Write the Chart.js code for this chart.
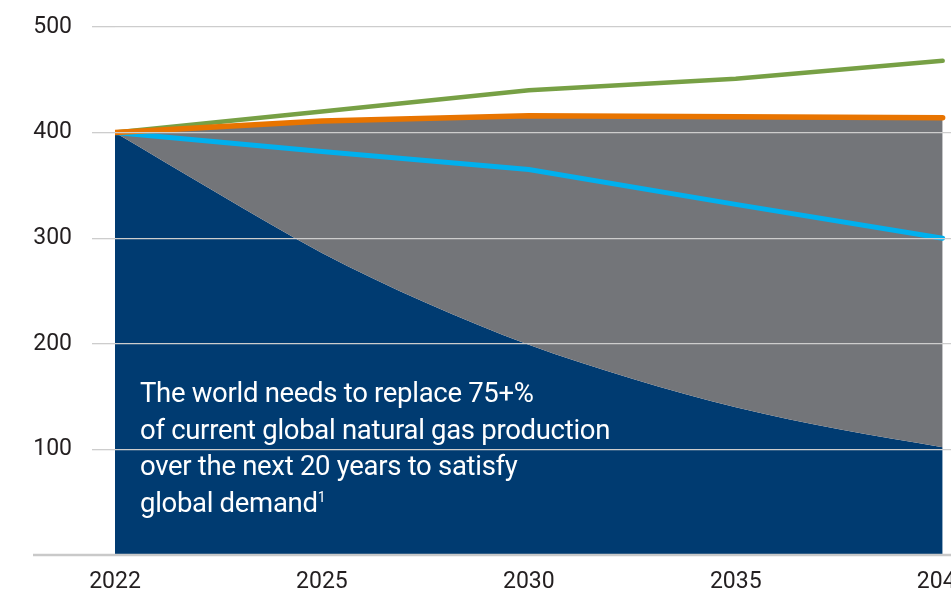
<!DOCTYPE html>
<html>
<head>
<meta charset="utf-8">
<script src="https://cdn.jsdelivr.net/npm/chart.js@4"></script>
<style>
    html, body { margin: 0; padding: 0; background: #fff; overflow: hidden; }
    #wrap { position: relative; width: 1000px; height: 590px; }
    #note {
        position: absolute;
        left: 140px;
        top: 375px;
        color: #fff;
        font-family: Roboto, sans-serif;
        font-size: 27.5px;
        line-height: 36.7px;
        letter-spacing: -0.3px;
        white-space: nowrap;
        pointer-events: none;
    }
    #note sup { font-size: 14px; vertical-align: 10px; line-height: 0; }
</style>
</head>
<body>
<div id="wrap">
    <canvas id="gasChart"></canvas>
    <div id="note">The world needs to replace 75+%<br>of current global natural gas production<br>over the next 20 years to satisfy<br>global demand<sup>1</sup></div>
</div>
<script>
// Tick years on the x axis (evenly spaced, not proportional to time)
const tickYears = [2022, 2025, 2030, 2035, 2040];
const yTicks = [100, 200, 300, 400, 500];

// Existing production decline (navy area), sampled also between ticks
const declineYears = [2022, 2023.5, 2025, 2027.5, 2030, 2032.5, 2035, 2037.5, 2040];
const declineValues = [400, 342, 286, 239, 199, 167, 140, 119, 102];

// Demand lines
const orangeValues = [400, 411, 416, 415, 414];
const blueValues = [400, 382, 365, 332, 300];
const greenValues = [400, 420, 440, 451, 468];

// map a year onto the evenly spaced tick positions
function yearToPos(year) {
    for (let i = 0; i < tickYears.length - 1; i++) {
        if (year <= tickYears[i + 1]) {
            return i + (year - tickYears[i]) / (tickYears[i + 1] - tickYears[i]);
        }
    }
    return tickYears.length - 1;
}

function toPoints(years, values) {
    return values.map((v, i) => ({ x: yearToPos(years[i]), y: v }));
}

// thick base line under the chart, running out past the y labels
const baseLine = {
    id: 'baseLine',
    afterDraw(chart) {
        const ctx = chart.ctx;
        const y = chart.scales.y.getPixelForValue(0);
        ctx.save();
        ctx.strokeStyle = '#c9c9c9';
        ctx.lineWidth = 2.5;
        ctx.beginPath();
        ctx.moveTo(chart.chartArea.left - 82, y);
        ctx.lineTo(chart.chartArea.right, y);
        ctx.stroke();
        ctx.restore();
    }
};

const ctx = document.getElementById('gasChart').getContext('2d');
new Chart(ctx, {
    type: 'line',
    data: {
        datasets: [
            {
                label: 'Existing production',
                data: toPoints(declineYears, declineValues),
                borderWidth: 0,
                pointRadius: 0,
                backgroundColor: '#003b71',
                fill: 'origin',
                cubicInterpolationMode: 'monotone',
                order: 4
            },
            {
                label: 'Demand (high)',
                data: toPoints(tickYears, greenValues),
                borderColor: '#77a045',
                borderWidth: 4.5,
                borderCapStyle: 'round',
                pointRadius: 0,
                fill: false,
                tension: 0,
                order: 3
            },
            {
                label: 'Demand (low)',
                data: toPoints(tickYears, blueValues),
                borderColor: '#00b0ee',
                borderWidth: 5,
                borderCapStyle: 'round',
                pointRadius: 0,
                fill: false,
                tension: 0,
                order: 2
            },
            {
                label: 'Demand (base)',
                data: toPoints(tickYears, orangeValues),
                borderColor: '#e87400',
                borderWidth: 5.5,
                borderCapStyle: 'round',
                pointRadius: 0,
                backgroundColor: '#737579',
                fill: 0,
                tension: 0,
                order: 1
            }
        ]
    },
    options: {
        responsive: true,
        maintainAspectRatio: false,
        animation: false,
        layout: {
            padding: { top: 27, right: 47, left: 0, bottom: 0 }
        },
        plugins: {
            legend: { display: false },
            tooltip: { enabled: false },
            filler: { drawTime: 'beforeDatasetsDraw' }
        },
        scales: {
            x: {
                type: 'linear',
                min: 0,
                max: 4.05,
                afterBuildTicks: (scale) => {
                    scale.ticks = tickYears.map((yr, i) => ({ value: i }));
                },
                afterFit: (scale) => { scale.height = 35; },
                grid: { display: false, drawTicks: false },
                border: { display: false },
                ticks: {
                    autoSkip: false,
                    maxRotation: 0,
                    padding: 13,
                    color: '#231f20',
                    font: { family: 'Roboto', size: 23 },
                    callback: (v) => tickYears[v] !== undefined ? String(tickYears[v]) : ''
                }
            },
            y: {
                min: 0,
                max: 500,
                afterBuildTicks: (scale) => {
                    scale.ticks = [0].concat(yTicks).map(v => ({ value: v }));
                },
                afterFit: (scale) => {
                    scale.width = 115;
                    scale.paddingTop = 0;
                    scale.paddingBottom = 0;
                },
                grid: {
                    z: 1,
                    color: (c) => c.tick && c.tick.value === 0 ? 'rgba(0,0,0,0)' : '#cdcdcd',
                    lineWidth: 1.3,
                    tickLength: 23
                },
                border: { display: false },
                ticks: {
                    padding: 20,
                    color: '#231f20',
                    font: { family: 'Roboto', size: 23 },
                    callback: (v) => v === 0 ? '' : String(v)
                }
            }
        }
    },
    plugins: [baseLine]
});
</script>
</body>
</html>
